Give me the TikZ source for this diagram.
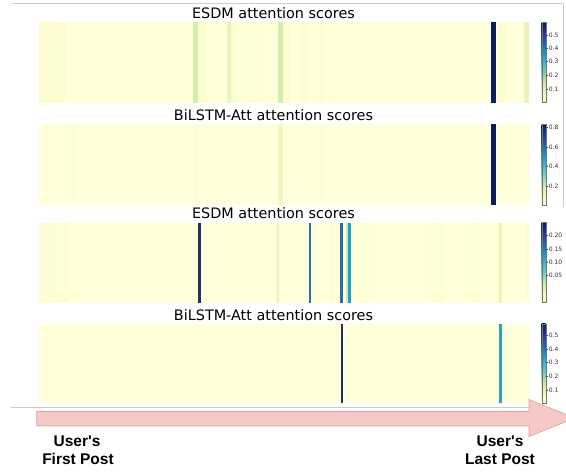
\documentclass[tikz,border=0pt]{standalone}
\usepackage{fontspec}
\setmainfont{DejaVu Sans}
\newfontfamily\lblfont{Liberation Sans}
\definecolor{hbase}{HTML}{FFFFD9}
\definecolor{hpale}{HTML}{FBFDD0}
\definecolor{hpaleb}{HTML}{F6FBC7}
\definecolor{hfaint}{HTML}{FEFED6}
\definecolor{hlg}{HTML}{E8F5B8}
\definecolor{hlgb}{HTML}{F0F8C0}
\definecolor{hg}{HTML}{D4ECB0}
\definecolor{hlgc}{HTML}{CDEBB5}
\definecolor{navy}{HTML}{0B1F5C}
\definecolor{navyc}{HTML}{1E2E6E}
\definecolor{bluea}{HTML}{2C6EB2}
\definecolor{blueb}{HTML}{2D6BAF}
\definecolor{cyana}{HTML}{22A0C8}
\definecolor{cyanb}{HTML}{26A2C7}
\definecolor{arrowfill}{RGB}{246,200,198}
\definecolor{arrowedge}{RGB}{222,160,158}
\definecolor{cA}{HTML}{FFFFD9}
\definecolor{cB}{HTML}{EDF8B1}
\definecolor{cC}{HTML}{C7E9B4}
\definecolor{cD}{HTML}{7FCDBB}
\definecolor{cE}{HTML}{41B6C4}
\definecolor{cF}{HTML}{1D91C0}
\definecolor{cG}{HTML}{225EA8}
\definecolor{cH}{HTML}{253494}
\definecolor{cI}{HTML}{081D58}
\pgfdeclareverticalshading{ylgnbu}{100bp}{color(0bp)=(cA); color(25bp)=(cA); color(31.25bp)=(cB); color(37.5bp)=(cC); color(43.75bp)=(cD); color(50bp)=(cE); color(56.25bp)=(cF); color(62.5bp)=(cG); color(68.75bp)=(cH); color(75bp)=(cI); color(100bp)=(cI)}
\tikzset{
  paneltitle/.style={font=\fontsize{14.4}{16}\selectfont, anchor=base, inner sep=0pt},
  ticklabel/.style={font=\fontsize{6}{7}\selectfont, anchor=west, inner sep=0pt, text=black!80},
  cbtick/.style={draw=black!70, line width=0.4pt},
  cbframe/.style={draw=black!55, line width=0.4pt},
  frameline/.style={draw=black!20, line width=0.8pt},
  postlabel/.style={font=\lblfont\bfseries\fontsize{15.5}{18}\selectfont, anchor=base, inner sep=0pt},
}
\newcommand\heatpanel[3]{%
  \fill[hbase] (39,#1) rectangle (529,#2);
  \foreach \a/\b/\c in {#3} {\fill[\c] (\a,#1) rectangle (\b,#2);}
}
\newcommand\colbar[4]{%
  \shade[shading=ylgnbu] (541.7,#1) rectangle (545.7,#2);
  \draw[cbframe] (541.7,#1) rectangle (545.7,#2);
  \foreach \yy/\tt [count=\i] in {#3} {
    \draw[cbtick] (545.7,\yy) -- (547.6,\yy);
    \node[ticklabel] (#4-\i) at (548.6,\yy) {\tt};
  }
}
\begin{document}
\begin{tikzpicture}[x=1pt,y=-1pt]
\useasboundingbox (0,0) rectangle (566,473);
\fill[white] (0,0) rectangle (566,473);
% frame lines of the upper figure
\draw[frameline] (12,3.3) -- (563,3.3);
\draw[frameline] (563,3.3) -- (563,207);
\draw[frameline] (11,407.3) -- (548,407.3);

% panel 1
\node[paneltitle] (t1) at (273.5,19) {ESDM attention scores};
\heatpanel{22.3}{102.7}{39/65/hpale, 192.7/197.7/hg, 197.7/206.7/hpale, 226.7/231/hlg, 231/236/hpale, 246.7/263/hfaint, 278/283/hg, 283/290/hpale, 301/307/hfaint, 320/325/hfaint, 491/496/navy, 497/505/hpale, 524.3/529/hlg}
\colbar{22.3}{102.7}{35/0.5, 48.3/0.4, 61.7/0.3, 75.7/0.2, 89/0.1}{cba}

% panel 2
\node[paneltitle] (t2) at (273.5,120.5) {BiLSTM-Att attention scores};
\heatpanel{124.3}{205}{70.4/75/hfaint, 194/198/hfaint, 278/283/hlgb, 319.5/325/hfaint, 491/496/navy}
\colbar{124.3}{205}{127.7/0.8, 147.3/0.6, 166.5/0.4, 186/0.2}{cbb}

% panel 3
\node[paneltitle] (t3) at (273.5,219) {ESDM attention scores};
\heatpanel{222.7}{302.7}{39/66.7/hfaint, 46/48.7/hpale, 65/67.5/hpale, 198.3/200.7/navyc, 277/279/hlg, 309/311/bluea, 330/335/hfaint, 340.3/342.7/blueb, 345.7/348.3/hlgc, 348.3/350.7/cyana, 360/370/hfaint, 430/445/hfaint, 470/480/hfaint, 499.3/501.7/hlg, 526.7/529/hpale}
\colbar{222.7}{302.7}{235.7/0.20, 249/0.15, 262.3/0.10, 275.7/0.05}{cbc}

% panel 4
\node[paneltitle] (t4) at (273.5,320.5) {BiLSTM-Att attention scores};
\heatpanel{324}{403.3}{340.5/342.7/navyc, 499.3/501.7/cyanb}
\colbar{324}{403.3}{335/0.5, 349/0.4, 362.3/0.3, 376.3/0.2, 390.3/0.1}{cbd}

% time arrow
\begin{scope}
\clip (0,0) rectangle (566,473);
\filldraw[fill=arrowfill, draw=arrowedge, line width=0.6pt]
  (36.7,411.5) -- (529,411.5) -- (529,399.5) -- (575,418) -- (529,436.5) -- (529,426) -- (36.7,426) -- cycle;
\end{scope}

\node[postlabel] (first1) at (77,447) {User's};
\node[postlabel] (first2) at (78,465) {First Post};
\node[postlabel] (last1) at (500,447) {User's};
\node[postlabel] (last2) at (500,465) {Last Post};
\end{tikzpicture}
\end{document}
